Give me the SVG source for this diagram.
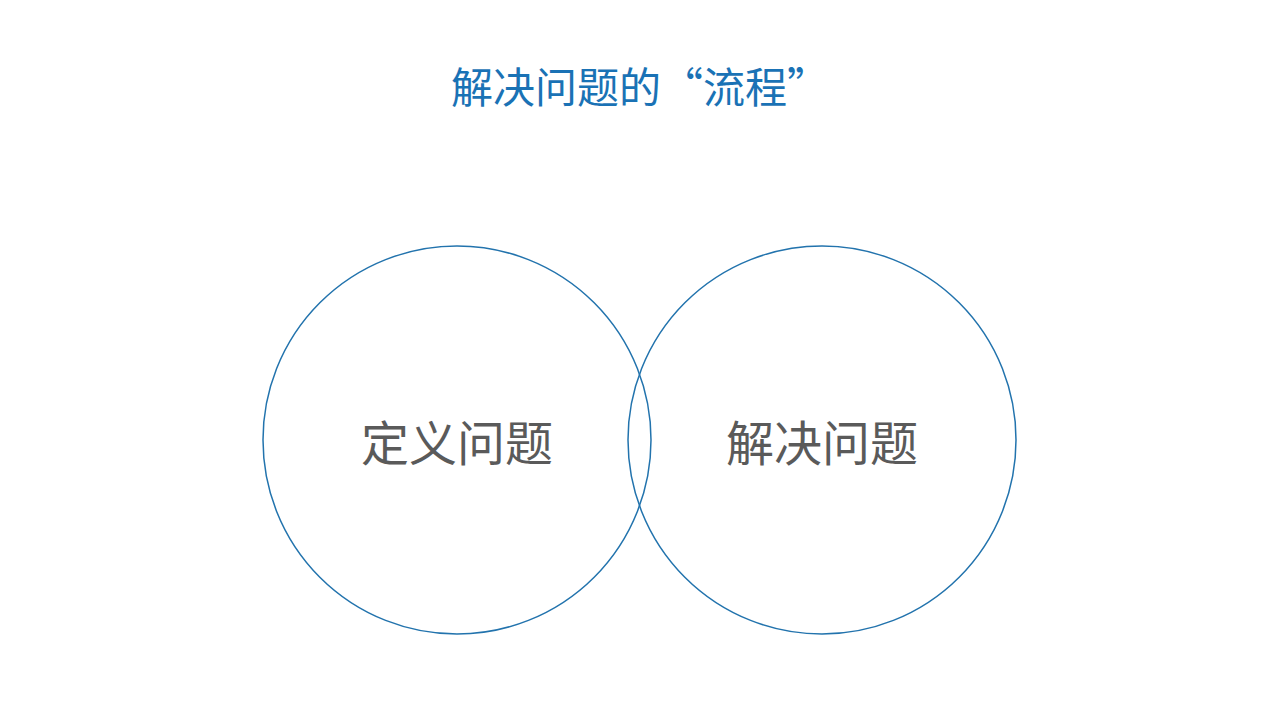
<svg xmlns="http://www.w3.org/2000/svg" width="1280" height="720" viewBox="0 0 1280 720">
<style>
.title{font-family:"Noto Sans CJK SC","Noto Sans",sans-serif;font-size:42px;fill:#1a72b5;text-anchor:middle}
.lbl{font-family:"Noto Sans CJK SC","Noto Sans",sans-serif;font-size:48px;fill:#5a5a5a;text-anchor:middle}
.ring{fill:none;stroke:#2273ad;stroke-width:1.5}
</style>
<rect width="1280" height="720" fill="#ffffff"/>
<text class="title" x="640" y="103">解决问题的“流程”</text>
<g id="define">
<circle class="ring" cx="457" cy="440" r="194"/>
<text class="lbl" x="457" y="461">定义问题</text>
</g>
<g id="solve">
<circle class="ring" cx="822" cy="440" r="194"/>
<text class="lbl" x="822" y="461">解决问题</text>
</g>
<g id="connectors"></g>
</svg>
